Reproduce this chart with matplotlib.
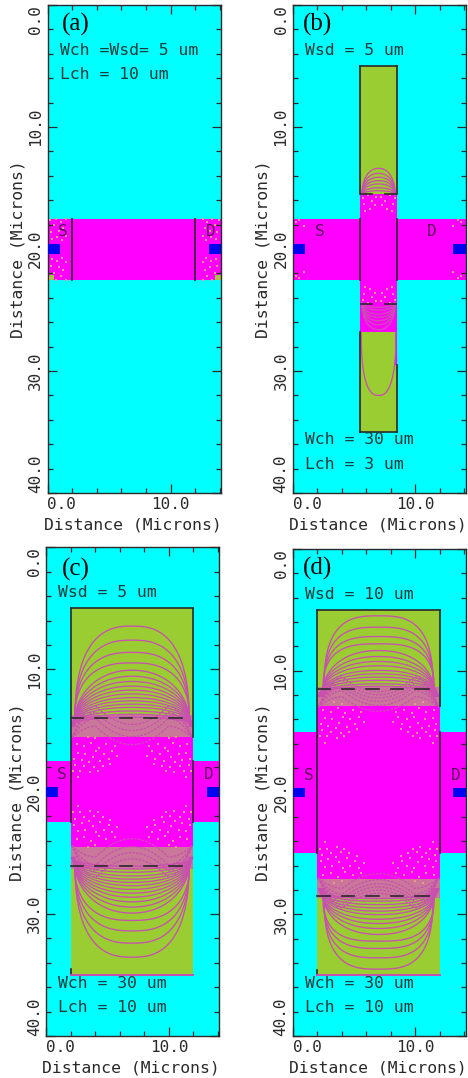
import numpy as np
import matplotlib
matplotlib.use('Agg')
import matplotlib.pyplot as plt
from matplotlib.patches import Rectangle

# colours
CYAN = '#00FFFF'
MAGENTA = '#FF00FF'
GREEN = '#9ACD32'
BLUE = '#0000F0'
LINE = '#C94FB0'
MIX = '#C9789A'
DARK = '#2A2A2A'
SPECK = '#F09494'
MONO = 'DejaVu Sans Mono'

# axis values (microns)
x_major = [0, 10]
x_minor = [2, 4, 6, 8, 12, 14]
y_major = [0, 10, 20, 30, 40]
y_minor = [2, 4, 6, 8, 12, 14, 16, 18, 22, 24, 26, 28, 32, 34, 36, 38]

# contour apex distance from y = 20
c_apex = [13.55, 12.4, 11.4, 10.54, 9.94, 9.45, 9.02, 8.64, 8.31, 8.0, 7.7,
          7.43, 7.16, 6.9, 6.6, 6.34, 6.1]
c_dips = [5.5, 5.0, 4.5, 3.85]
d_apex = [14.51, 13.58, 12.81, 12.21, 11.66, 11.17, 10.76, 10.41, 10.03, 9.75,
          9.48, 9.21, 8.93, 8.72]
d_dips = [8.28, 8.03, 7.76, 7.49, 7.16, 6.67]
b_apex = [6.61, 6.2, 5.88, 5.6, 5.33, 5.02, 4.78]

# speckles: offset from channel centre and from the S/D edge, mirrored
speck_wide = [(1.2, -0.6), (1.6, -0.2), (1.9, -0.8), (2.3, -0.4), (2.6, -1.0), (2.9, -0.2),
              (3.2, -0.7), (3.5, -1.1), (3.8, -0.4), (4.1, -0.9), (4.4, -0.3), (4.7, -0.8),
              (1.4, 0.2), (2.1, 0.4), (2.7, 0.1), (3.3, 0.5), (3.9, 0.2), (4.5, 0.4),
              (3.0, 0.9), (3.6, 1.0), (2.4, -1.4), (3.1, -1.5), (3.9, -1.4), (4.6, -1.3),
              (1.8, -1.2), (4.2, -1.8), (3.4, -1.9), (2.8, -1.8), (4.8, -1.8), (4.4, -2.3)]
speck_b = [(0.2, 4.3), (0.5, 3.9), (0.9, 4.4), (1.2, 3.7), (0.7, 3.3), (0.3, 3.6), (1.1, 3.1), (1.3, 4.2)]
speck_a = [(0.4, 0.3), (0.8, 0.5), (1.2, 0.2), (1.5, 0.6), (0.3, 0.9), (0.9, 1.0), (1.3, 1.2),
           (0.5, 1.5), (1.1, 1.7), (0.2, 1.9), (1.5, 2.0), (0.7, 2.0)]

# gate edges drawn dark: (y from, y to)
a_left = [(17.5, 22.5)]
a_right = [(17.5, 22.5)]
b_left = [(5, 15.5), (17.5, 22.5), (26.8, 35)]
b_right = [(5, 15.5), (17.5, 22.5), (29.5, 35)]
c_left = [(5, 22.5), (34.5, 35)]
c_right = [(5, 15.5), (17.5, 22.5)]
d_left = [(5, 25), (34.6, 35)]
d_right = [(5, 12.9), (15, 25)]


def arc(ax, cx, w, apex, end, p):
    # apex and end are distances from y = 20, drawn above and below
    u = np.linspace(-1, 1, 161)
    f = (1 - np.abs(u) ** p) ** (1 / p)
    for sign in (-1, 1):
        y = 20 + sign * (end + (apex - end) * f)
        ax.plot(cx + w * u, y, color=LINE, lw=0.95, zorder=3)


def dip(ax, cx, w, apex, shoulder, edge):
    u = np.linspace(-1, 1, 161)
    a = np.abs(u)
    y = np.where(a < 0.6, apex + (shoulder - apex) * (a / 0.6) ** 2,
                 shoulder - (shoulder - edge) * ((a - 0.6) / 0.4) ** 2)
    for sign in (-1, 1):
        ax.plot(cx + w * u, 20 + sign * y, color=LINE, lw=0.9, ls=(0, (2, 1)), zorder=3)


def speckle(ax, cx, cy, pts):
    xs, ys = [], []
    for dx, dy in pts:
        for sx in (-1, 1):
            for sy in (-1, 1):
                xs.append(cx + sx * dx)
                ys.append(20 + sy * (cy + dy))
    ax.scatter(xs, ys, s=2.5, color=SPECK, marker='s', lw=0, zorder=3)


def base(pos, x0, x1, wsd, gate):
    ax = fig.add_axes([pos[0] / 468, 1 - pos[3] / 1078, (pos[1] - pos[0]) / 468, (pos[3] - pos[2]) / 1078])
    ax.set_xlim(0, 14.1)
    ax.set_ylim(40, 0)
    ax.set_facecolor(CYAN)
    ax.set_axisbelow(False)
    if gate:
        ax.add_patch(Rectangle((x0, 5), x1 - x0, 30, fc=GREEN, ec='none', zorder=1))
    ax.add_patch(Rectangle((0, 20 - wsd / 2), 14.1, wsd, fc=MAGENTA, ec='none', zorder=1))
    ax.add_patch(Rectangle((0, 19.6), 1.0, 0.8, fc=BLUE, ec='none', zorder=4))
    ax.add_patch(Rectangle((13.1, 19.6), 1.0, 0.8, fc=BLUE, ec='none', zorder=4))

    ax.set_xticks(x_major, ['0.0', '10.0'], family=MONO, fontsize=11.5, color=DARK)
    ax.set_xticks(x_minor, minor=True)
    ax.set_yticks(y_major, ['0.0', '10.0', '20.0', '30.0', '40.0'], family=MONO, fontsize=11.5,
                  color=DARK, rotation=90, va='center')
    ax.set_yticks(y_minor, minor=True)
    ax.tick_params(which='major', direction='in', length=6.5, width=0.9, top=True, right=True, pad=3, color=DARK)
    ax.tick_params(which='minor', direction='in', length=3.5, width=0.9, top=True, right=True, color=DARK)
    ax.get_xticklabels()[0].set_ha('left')
    ax.get_yticklabels()[0].set_va('top')
    ax.get_yticklabels()[4].set_va('bottom')
    ax.set_xlabel('Distance (Microns)', family=MONO, fontsize=11.8, color=DARK, va='center')
    ax.set_ylabel('Distance (Microns)', family=MONO, fontsize=11.8, color=DARK, va='center')
    ax.xaxis.set_label_coords(0.49, -0.066)
    ax.yaxis.set_label_coords(-0.17, 0.5)
    for s in ax.spines.values():
        s.set_color(DARK)
        s.set_linewidth(1.0)
    return ax


def outline(ax, x0, x1, left, right, top=True):
    if top:
        ax.plot([x0, x1], [5, 5], color=DARK, lw=1.2, zorder=5)
    for xp, segs in ((x0, left), (x1, right)):
        for y0, y1 in segs:
            ax.plot([xp, xp], [y0, y1], color=DARK, lw=1.2, zorder=5)


def junction(ax, x0, x1, y, segs):
    for a, b in segs:
        for yy in (20 - y, 20 + y):
            ax.plot([x0 + a, x0 + b], [yy, yy], color=DARK, lw=1.2, zorder=5)


def notes(ax, lines, s_x, d_x, tag, tag_x, tag_y):
    for y, s in lines:
        ax.text(1.0, y, s, family=MONO, fontsize=11.8, color='#1E3A3A', va='center', zorder=6)
    ax.text(s_x, 18.6, 'S', family=MONO, fontsize=11.5, color='#5A0A5A', ha='center', va='center', zorder=6)
    ax.text(d_x, 18.6, 'D', family=MONO, fontsize=11.5, color='#5A0A5A', ha='center', va='center', zorder=6)
    ax.text(tag_x, tag_y, tag, family='Liberation Serif', fontsize=18, color='black', ha='center', va='center', zorder=6)


fig = plt.figure(figsize=(4.68, 10.78), dpi=100)

# (a)
ax = base((47.5, 221, 5, 493), 2, 12, 5, False)
ax.add_patch(Rectangle((0, 22.1), 0.5, 0.4, fc=GREEN, ec='none', zorder=2))
ax.add_patch(Rectangle((13.6, 22.1), 0.5, 0.4, fc=GREEN, ec='none', zorder=2))
speckle(ax, 7.05, 0.5, [(7.05 - dx, dy) for dx, dy in speck_a])
outline(ax, 2, 12, a_left, a_right, top=False)
notes(ax, [(3.7, 'Wch =Wsd= 5 um'), (5.7, 'Lch = 10 um')], 1.26, 13.3, '(a)', 2.3, 1.6)

# (b)
ax = base((292.7, 465.7, 5, 493), 5.5, 8.5, 5, True)
ax.add_patch(Rectangle((5.5, 15.5), 3, 11.3, fc=MAGENTA, ec='none', zorder=2))
ax.add_patch(Rectangle((8.3, 26.8), 0.2, 2.7, fc=MAGENTA, ec='none', zorder=2))
for a in b_apex:
    arc(ax, 7, 1.35, a, 4.4, 2.2)
u = np.linspace(-1, 1, 81)
ax.plot(7 + 1.42 * u, 26.8 + 5.2 * (1 - np.abs(u) ** 2.5) ** 0.4, color=LINE, lw=0.95, zorder=3)
speckle(ax, 7, 0, speck_b)
speckle(ax, 7, 0, [(6.7, 2.2), (6.1, 1.9), (6.5, 2.4)])
outline(ax, 5.5, 8.5, b_left, b_right)
ax.plot([5.5, 8.5], [35, 35], color=DARK, lw=1.2, zorder=5)
junction(ax, 5.5, 8.5, 4.5, [(0.05, 1.0), (2.0, 2.95)])
notes(ax, [(3.7, 'Wsd = 5 um'), (35.65, 'Wch = 30 um'), (37.65, 'Lch = 3 um')], 2.2, 11.3, '(b)', 2.0, 1.6)

dash5 = [(0, 1.0), (2.0, 3.0), (4.0, 5.0), (6.0, 7.0), (8.0, 9.1)]

# (c)
ax = base((46, 219.3, 547.3, 1036), 2, 12, 5, True)
ax.add_patch(Rectangle((2, 13.7), 10, 12.6, fc=MIX, ec='none', zorder=2))
ax.add_patch(Rectangle((2, 15.5), 10, 9.0, fc=MAGENTA, ec='none', zorder=2))
for i, a in enumerate(c_apex):
    arc(ax, 7, 4.65 + 0.3 * i / len(c_apex), a, 5.4, 2.6 if i < 4 else 2.1)
for a in c_dips:
    dip(ax, 7, 4.9, a, a + 1.5, 4.4)
speckle(ax, 7, 3.5, speck_wide)
outline(ax, 2, 12, c_left, c_right)
ax.plot([2, 12], [35, 35], color=LINE, lw=1.4, zorder=5)
junction(ax, 2, 12, 6.05, dash5)
notes(ax, [(3.7, 'Wsd = 5 um'), (35.7, 'Wch = 30 um'), (37.7, 'Lch = 10 um')], 1.27, 13.25, '(c)', 2.4, 1.8)

# (d)
ax = base((292.7, 465.7, 549, 1036), 2, 12, 10, True)
ax.add_patch(Rectangle((2, 11.3), 10, 17.4, fc=MIX, ec='none', zorder=2))
ax.add_patch(Rectangle((2, 12.9), 10, 14.2, fc=MAGENTA, ec='none', zorder=2))
for i, a in enumerate(d_apex):
    arc(ax, 7, 4.45 + 0.5 * i / len(d_apex), a, 7.9, 3.0 if i < 4 else 2.2)
for a in d_dips:
    dip(ax, 7, 4.9, a, a + 1.2, 7.0)
speckle(ax, 7, 6.4, speck_wide)
outline(ax, 2, 12, d_left, d_right)
ax.plot([2, 12], [35, 35], color=LINE, lw=1.4, zorder=5)
junction(ax, 2, 12, 8.5, dash5)
notes(ax, [(3.7, 'Wsd = 10 um'), (35.7, 'Wch = 30 um'), (37.7, 'Lch = 10 um')], 1.33, 13.25, '(d)', 2.05, 1.6)

fig.savefig('out.png', dpi=100)
